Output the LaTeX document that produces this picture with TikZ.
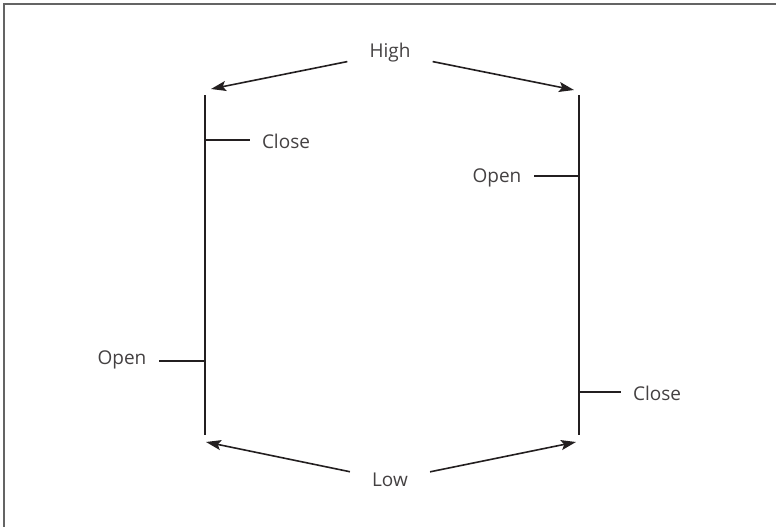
\documentclass[tikz,border=0pt]{standalone}
\usepackage{fontspec}
\setmainfont{Open Sans}
\usetikzlibrary{arrows.meta}
\definecolor{inkgray}{RGB}{35,31,32}
\definecolor{framegray}{RGB}{100,100,100}
\newcommand{\labelSize}[0]{\fontsize{19}{22}\selectfont}

\begin{document}
\begin{tikzpicture}[x=1pt, y=-1pt]
  \tikzset{every node/.style={font=\labelSize, text=inkgray!85!white},
           tick label/.style={inner xsep=12pt, inner ysep=2pt},
           end label/.style={inner xsep=22pt, inner ysep=2pt},
           bar/.style={draw=inkgray, line width=1.6pt},
           tick/.style={draw=inkgray, line width=1.4pt},
           price arrow/.style={draw=inkgray, line width=1.6pt, -{Stealth[length=15pt, width=10pt, inset=3pt]}}}
  \useasboundingbox (0,0) rectangle (776,527);
  \draw[framegray, line width=2pt] (4,527) -- (4,4) -- (776,4);
  % the two bars
  \coordinate (ltop) at (205,95);
  \coordinate (lbot) at (205,435);
  \coordinate (rtop) at (579,95);
  \coordinate (rbot) at (579,435);
  \draw[bar] (ltop) -- (lbot);
  \draw[bar] (rtop) -- (rbot);
  % ticks
  \coordinate (lclosetick) at (205,140);
  \coordinate (lopentick) at (205,361);
  \coordinate (ropentick) at (579,176);
  \coordinate (rclosetick) at (579,392);
  \node[tick label] (lclose) at (286,141) {Close};
  \node[tick label] (lopen) at (122,360) {Open};
  \node[tick label] (ropen) at (497,178) {Open};
  \node[tick label] (rclose) at (657,393) {Close};
  \draw[tick] (lclosetick) -- (lclose.west |- lclosetick);
  \draw[tick] (lopentick) -- (lopen.east |- lopentick);
  \draw[tick] (ropentick) -- (ropen.east |- ropentick);
  \draw[tick] (rclosetick) -- (rclose.west |- rclosetick);
  % high and low
  \node[end label] (high) at (390,53) {High};
  \node[end label] (low) at (390,480) {Low};
  \coordinate (highl) at (211,89);
  \coordinate (highr) at (574,90);
  \coordinate (lowl) at (206,442);
  \coordinate (lowr) at (576,442);
  \draw[price arrow] (high) -- (highl);
  \draw[price arrow] (high) -- (highr);
  \draw[price arrow] (low) -- (lowl);
  \draw[price arrow] (low) -- (lowr);
\end{tikzpicture}
\end{document}
